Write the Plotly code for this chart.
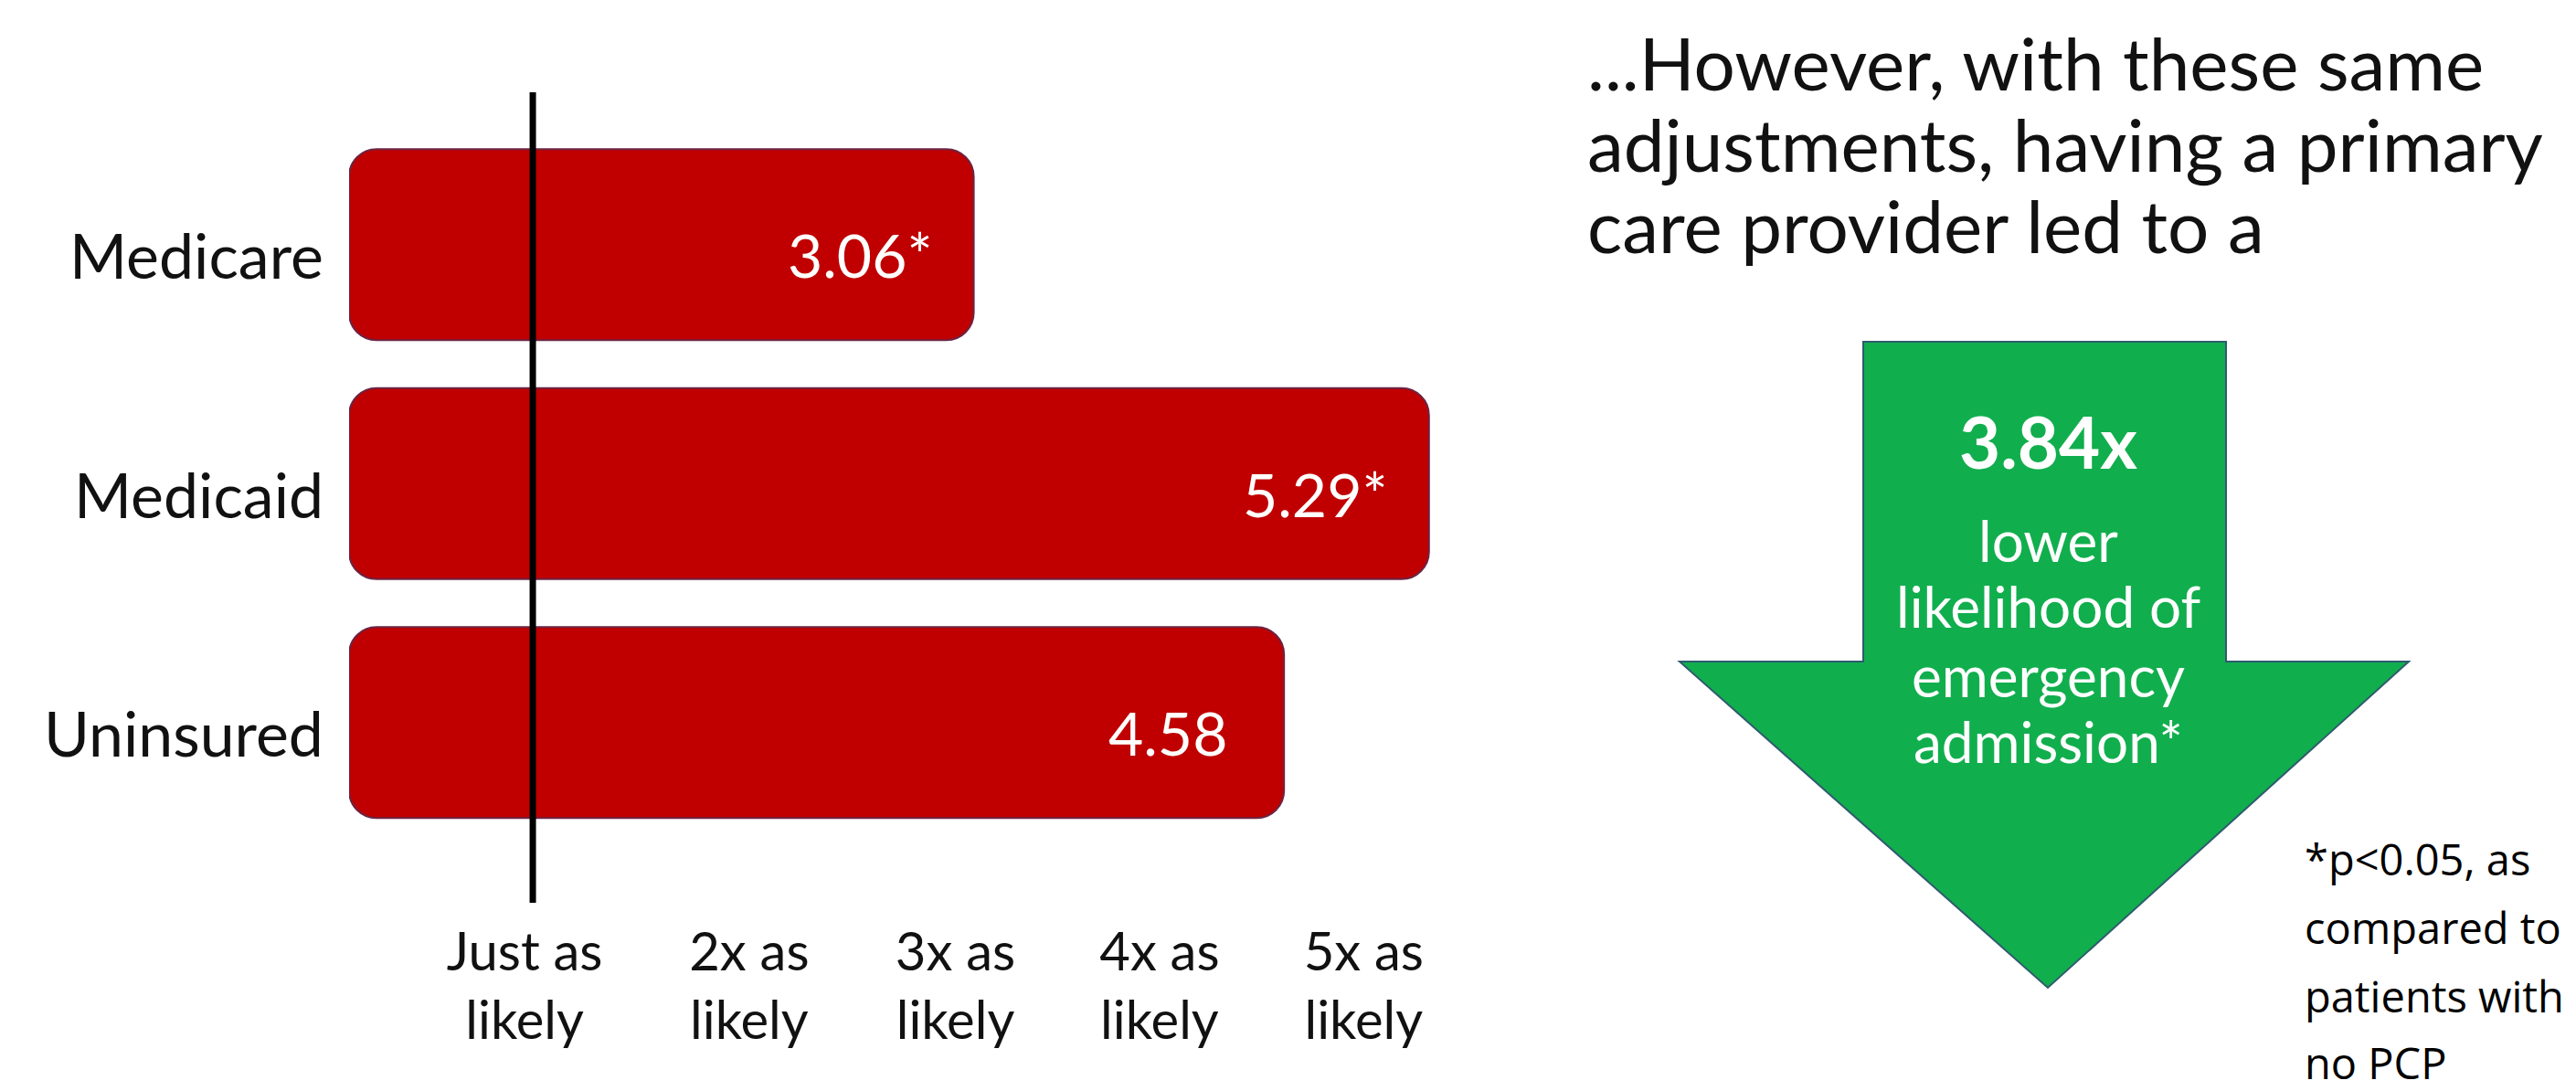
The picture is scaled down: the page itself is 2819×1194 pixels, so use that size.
import plotly.graph_objects as go

W, H = 2819, 1194

# ---- data ----
categories = ["Medicare", "Medicaid", "Uninsured"]
odds_ratios = [3.06, 5.29, 4.58]
significant = [True, True, False]
tick_values = [0.86, 1.96, 2.97, 3.97, 4.97]
tick_labels = ["Just as<br>likely", "2x as<br>likely", "3x as<br>likely",
               "4x as<br>likely", "5x as<br>likely"]
reference_x = 0.9  # "just as likely" marker line

heading_lines = ["...However, with these same",
                 "adjustments, having a primary",
                 "care provider led to a"]
arrow_value = "3.84x"
arrow_lines = ["lower", "likelihood of", "emergency", "admission*"]
footnote_lines = ["*p<0.05, as", "compared to", "patients with", "no PCP"]

# ---- helpers ----
def px(x):
    return x / W

def py(y):
    return 1 - y / H

BAR_RED = "#C00000"
BAR_EDGE = "#6B2443"
GREEN = "#11AE4D"
TEXT = "#111111"

fig = go.Figure()

fig.add_trace(go.Bar(
    y=categories,
    x=odds_ratios,
    base=[0] * len(odds_ratios),
    orientation="h",
    marker=dict(color=BAR_RED, line=dict(color=BAR_EDGE, width=2), cornerradius=30),
    hoverinfo="skip", showlegend=False,
))

annotations = []
# category labels (left of bars)
for cat in categories:
    annotations.append(dict(
        x=0, y=cat, xref="x", yref="y", xanchor="right", yanchor="middle",
        xshift=-26, yshift=-11, showarrow=False, text=cat,
        font=dict(family="Lato", size=68, color=TEXT),
    ))
# value labels inside the bars
for cat, v, s in zip(categories, odds_ratios, significant):
    annotations.append(dict(
        x=v, y=cat, xref="x", yref="y", xanchor="right", yanchor="middle",
        xshift=-44 if s else -60, yshift=-11, showarrow=False,
        text=f"{v:.2f}" + ("*" if s else ""),
        font=dict(family="Lato", size=66, color="white"),
    ))

# heading text
for line, yc in zip(heading_lines, [60, 149, 238]):
    annotations.append(dict(
        x=px(1727), y=py(yc), xref="paper", yref="paper",
        xanchor="left", yanchor="middle", showarrow=False, text=line,
        font=dict(family="Lato", size=80, color=TEXT),
    ))

# arrow text
annotations.append(dict(
    x=px(2233), y=py(475), xref="paper", yref="paper",
    xanchor="center", yanchor="middle", showarrow=False,
    text=f"<b>{arrow_value}</b>",
    font=dict(family="Lato", size=78, color="white"),
))
for line, yc in zip(arrow_lines, [583, 655, 731, 803]):
    annotations.append(dict(
        x=px(2233), y=py(yc), xref="paper", yref="paper",
        xanchor="center", yanchor="middle", showarrow=False, text=line,
        font=dict(family="Lato", size=62, color="white"),
    ))

# footnote
for line, yc in zip(footnote_lines, [932, 1007, 1082, 1155]):
    annotations.append(dict(
        x=px(2512), y=py(yc), xref="paper", yref="paper",
        xanchor="left", yanchor="middle", showarrow=False, text=line,
        font=dict(family="Open Sans", size=47, color="#000000"),
    ))

# green down arrow
pts = [(2031, 366), (2428, 366), (2428, 716), (2628, 716),
       (2233, 1073), (1830, 716), (2031, 716)]
path = "M " + " L ".join(f"{px(x):.5f},{py(y):.5f}" for x, y in pts) + " Z"

shapes = [
    dict(type="path", path=path, xref="paper", yref="paper",
         fillcolor=GREEN, line=dict(color="#2E5C6E", width=2), layer="below"),
    dict(type="line", xref="x", yref="paper", x0=reference_x, x1=reference_x,
         y0=py(980), y1=py(93), line=dict(color="black", width=7), layer="above"),
]

# axis geometry
x_left_px, px_per_unit = 374, 223.4
x_max = 5.5
y_top_px, y_bot_px = 129.0, 913.5

fig.update_layout(
    width=W, height=H,
    margin=dict(l=0, r=0, t=0, b=0),
    paper_bgcolor="white", plot_bgcolor="white",
    barmode="overlay", bargap=0.2,
    showlegend=False,
    annotations=annotations,
    shapes=shapes,
    xaxis=dict(
        domain=[px(x_left_px), px(x_left_px + x_max * px_per_unit)],
        range=[0, x_max],
        showgrid=False, zeroline=False, showline=False,
        tickmode="array", tickvals=tick_values, ticktext=tick_labels,
        ticks="", ticklabelstandoff=81,
        tickfont=dict(family="Lato", size=58, color=TEXT),
    ),
    yaxis=dict(
        domain=[py(y_bot_px), py(y_top_px)],
        type="category", categoryorder="array", categoryarray=categories,
        range=[2.5, -0.5],
        showgrid=False, zeroline=False, showline=False,
        ticks="", showticklabels=False,
    ),
)

fig.write_html("out.html")
